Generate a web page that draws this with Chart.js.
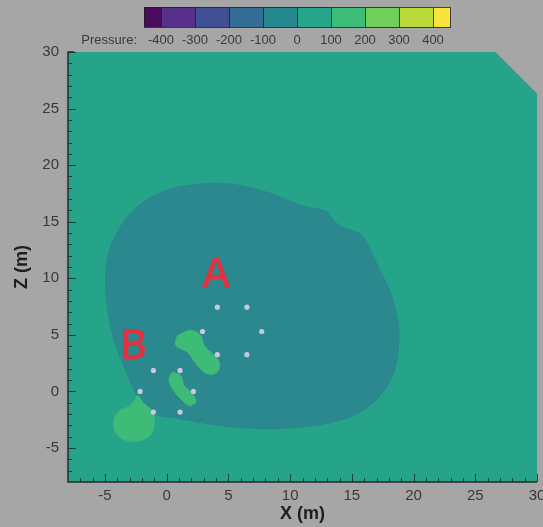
<!DOCTYPE html>
<html>
<head>
<meta charset="utf-8">
<script src="https://cdn.jsdelivr.net/npm/chart.js@4"></script>
<style>
  html, body { margin: 0; padding: 0; background: #a6a6a6; }
  canvas { display: block; }
</style>
</head>
<body>
<canvas id="chart" width="543" height="527"></canvas>
<script>
// pressure levels of the colour bar and their colours
const levels = [-400, -300, -200, -100, 0, 100, 200, 300, 400];
const levelColors = ['#4a0b5d', '#57308b', '#414f93', '#336c94', '#278990',
                     '#25a58a', '#3dbd77', '#70cf58', '#b9d93a', '#f8e43a'];

const xTicks = [-5, 0, 5, 10, 15, 20, 25, 30];
const zTicks = [-5, 0, 5, 10, 15, 20, 25, 30];

// contour outlines, [x, z] in metres
const domainOutline = [[-8, -8], [30, -8], [30, 26.3], [26.6, 30], [-8, 30]];          // 0 .. 100
const lowZone = [                                                                        // -100 .. 0
  [-2.6, 0], [-3.6, 2.6], [-4.3, 4.6], [-4.75, 7.0], [-4.95, 9.5], [-4.75, 12.0],
  [-3.9, 14.3], [-2.5, 16.2], [-0.7, 17.5], [1.6, 18.2], [4.9, 18.35], [8.15, 17.6],
  [10.85, 16.45], [13.0, 15.9], [13.3, 15.4], [14.1, 14.6], [15.7, 13.9], [16.3, 12.9],
  [17.1, 11.1], [18.1, 8.8], [18.7, 6.4], [18.8, 4.4], [18.4, 1.7], [17.3, -0.35],
  [15.7, -1.8], [13.5, -2.7], [10.85, -3.15], [8.15, -3.3], [5.4, -3.15], [2.75, -2.75],
  [1.0, -2.4], [-1.05, -2.0], [-1.8, -1.3]
];
const highIslandB = [                                                                    // 100 .. 200
  [-2.35, -0.3], [-1.9, -1.0], [-1.2, -1.7], [-1.0, -2.8], [-1.3, -3.8], [-2.2, -4.35],
  [-3.3, -4.3], [-4.1, -3.7], [-4.3, -2.7], [-3.9, -1.8], [-3.0, -1.3], [-2.6, -0.8]
];
const highIslandA = [
  [0.86, 4.95], [1.94, 5.39], [2.75, 4.95], [3.02, 4.07], [3.56, 3.48], [4.24, 2.6],
  [4.1, 1.71], [3.29, 1.56], [2.48, 2.3], [1.67, 3.48], [0.73, 4.07]
];
const highIslandC = [
  [0.46, 1.71], [1.13, 1.41], [1.4, 0.53], [2.08, -0.2], [2.35, -0.94], [1.81, -1.23],
  [1.13, -0.64], [0.46, 0.24], [0.19, 1.12]
];

// source positions
const ringA = [[4.1, 7.45], [6.5, 7.45], [7.7, 5.3], [6.5, 3.25], [4.1, 3.25], [2.9, 5.3]];
const ringB = [[-1.08, 1.86], [1.08, 1.86], [2.16, 0], [1.08, -1.82], [-1.08, -1.82], [-2.16, 0]];

const markText = ['A', 'B'];
const markX = [4.0, -2.7];
const markZ = [10.3, 3.95];

const toPts = arr => arr.map(([x, y]) => ({ x, y }));
const closed = arr => toPts(arr.concat([arr[0]]));

function zone(outline, color, order, tension) {
  return {
    data: closed(outline),
    showLine: true,
    fill: 'shape',
    backgroundColor: color,
    borderColor: color,
    borderWidth: 1,
    pointRadius: 0,
    tension: tension,
    order: order
  };
}

const overlay = {
  id: 'overlay',
  afterDatasetsDraw(chart) {
    const { ctx, chartArea: a, scales: { x, y } } = chart;
    ctx.save();
    // inner tick marks
    ctx.strokeStyle = 'rgba(20,45,40,0.85)';
    ctx.lineWidth = 1;
    for (let v = -7; v <= 30; v++) {
      const len = v % 5 === 0 ? 8 : 4;
      const px = Math.round(x.getPixelForValue(v)) + 0.5;
      ctx.beginPath(); ctx.moveTo(px, a.bottom); ctx.lineTo(px, a.bottom - len); ctx.stroke();
      const py = Math.round(y.getPixelForValue(v)) + 0.5;
      ctx.beginPath(); ctx.moveTo(a.left, py); ctx.lineTo(a.left + len, py); ctx.stroke();
    }
    // axis lines
    ctx.strokeStyle = '#2a2a2a';
    ctx.lineWidth = 1.5;
    ctx.beginPath();
    ctx.moveTo(a.left + 6, a.top); ctx.lineTo(a.left, a.top);
    ctx.lineTo(a.left, a.bottom); ctx.lineTo(a.right, a.bottom);
    ctx.stroke();
    // A / B marks
    ctx.font = "600 42px 'Open Sans'";
    ctx.textAlign = 'center';
    ctx.textBaseline = 'middle';
    ctx.fillStyle = '#e0323f';
    markText.forEach((t, i) => {
      ctx.fillText(t, x.getPixelForValue(markX[i]), y.getPixelForValue(markZ[i]));
    });
    ctx.restore();
  },
  afterDraw(chart) {
    const ctx = chart.ctx;
    const left = 144, top = 7, h = 20, step = 34;
    ctx.save();
    let xs = left;
    levelColors.forEach((c, i) => {
      const w = (i === 0 || i === levelColors.length - 1) ? step / 2 : step;
      ctx.fillStyle = c;
      ctx.fillRect(xs, top, w, h);
      ctx.strokeStyle = 'rgba(30,30,30,0.8)';
      ctx.lineWidth = 1;
      ctx.strokeRect(xs + 0.5, top + 0.5, w, h);
      xs += w;
    });
    ctx.font = "13px 'Liberation Sans'";
    ctx.fillStyle = '#3a3a3a';
    ctx.textBaseline = 'middle';
    ctx.textAlign = 'right';
    ctx.fillText('Pressure:', 137, 40);
    ctx.textAlign = 'center';
    levels.forEach((v, i) => {
      ctx.fillText(String(v), left + step / 2 + i * step, 40);
    });
    ctx.restore();
  }
};

const tickFont = { family: 'Liberation Sans', size: 15 };
const titleFont = { family: 'Liberation Sans', size: 18, weight: 'bold' };

new Chart(document.getElementById('chart'), {
  type: 'scatter',
  data: {
    datasets: [
      zone(domainOutline, '#26a48a', 10, 0),
      zone(lowZone, '#2a888e', 9, 0.35),
      zone(highIslandB, '#3dbb77', 8, 0.35),
      zone(highIslandA, '#3dbb77', 8, 0.35),
      zone(highIslandC, '#3dbb77', 8, 0.35),
      {
        data: toPts(ringA.concat(ringB)),
        pointRadius: 2.6,
        pointBackgroundColor: '#cac6e0',
        pointBorderWidth: 0,
        order: 1
      }
    ]
  },
  options: {
    responsive: false,
    animation: false,
    layout: { padding: { top: 52, right: 6, left: 0, bottom: 0 } },
    plugins: { legend: { display: false }, tooltip: { enabled: false } },
    scales: {
      x: {
        type: 'linear', min: -8, max: 30,
        afterBuildTicks: s => { s.ticks = xTicks.map(v => ({ value: v })); },
        afterFit: s => { s.height = 45; s.paddingLeft = 0; s.paddingRight = 0; },
        grid: { drawOnChartArea: false, drawTicks: false },
        border: { display: false },
        ticks: { font: tickFont, color: '#383838', padding: 5, maxRotation: 0, autoSkip: false },
        title: { display: true, text: 'X (m)', font: titleFont, color: '#1e1e1e', padding: { top: 0, bottom: 2 } }
      },
      y: {
        type: 'linear', min: -8, max: 30,
        afterBuildTicks: s => { s.ticks = zTicks.map(v => ({ value: v })); },
        afterFit: s => { s.width = 68; s.paddingTop = 0; s.paddingBottom = 0; },
        grid: { drawOnChartArea: false, drawTicks: false },
        border: { display: false },
        ticks: { font: tickFont, color: '#383838', padding: 9, autoSkip: false },
        title: { display: true, text: 'Z (m)', font: titleFont, color: '#1e1e1e', padding: { top: 11, bottom: 0 } }
      }
    }
  },
  plugins: [overlay]
});
</script>
</body>
</html>
